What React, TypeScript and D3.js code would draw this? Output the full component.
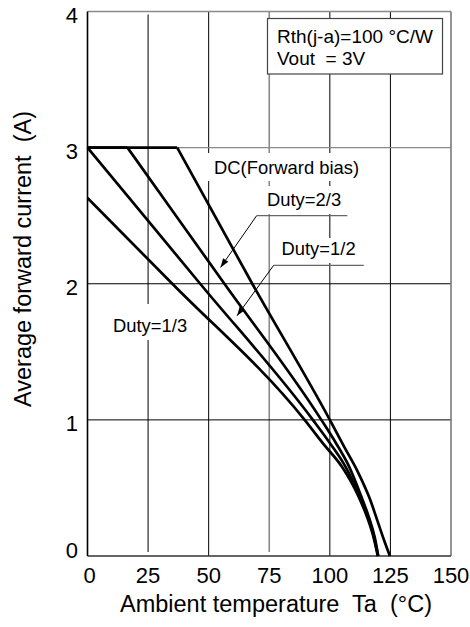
import React from 'react';
import * as d3 from 'd3';

const W = 470;
const H = 627;

const xTicks = [0, 25, 50, 75, 100, 125, 150];
const yTicks = [0, 1, 2, 3, 4];

const seriesNames = ['DC(Forward bias)', 'Duty=2/3', 'Duty=1/2', 'Duty=1/3'];

const dcT = [0, 37, 68, 100, 106, 111.5, 116.5, 120, 122.5, 124.8];
const dcI = [3, 3, 2, 1, 0.8, 0.62, 0.42, 0.24, 0.11, 0];

const d23T = [0, 16.5, 56.5, 96.5, 102.5, 108, 112.7, 116.2, 118.5, 120];
const d23I = [3, 3, 2, 1, 0.83, 0.655, 0.45, 0.28, 0.14, 0];

const d12T = [0, 46.5, 93, 100, 106.5, 112, 115.8, 118.2, 119.9];
const d12I = [3, 2, 1, 0.83, 0.655, 0.45, 0.28, 0.14, 0];

const d13T = [0, 35, 89.6, 97.5, 105, 111.5, 115.5, 118, 119.8];
const d13I = [2.63, 2, 1, 0.82, 0.655, 0.45, 0.28, 0.14, 0];

const seriesT = [dcT, d23T, d12T, d13T];
const seriesI = [dcI, d23I, d12I, d13I];

const infoLines = ['Rth(j-a)=100 °C/W', 'Vout  = 3V'];
const xTitle = 'Ambient temperature  Ta  (°C)';
const yTitle = 'Average forward current  (A)';

const FONT = "'Liberation Sans', Arial, Helvetica, sans-serif";

export default function App() {
  const x = d3.scaleLinear().domain([0, 150]).range([87.5, 451]);
  const y = d3.scaleLinear().domain([0, 4]).range([556, 11.5]);

  const flat = d3
    .line<[number, number]>()
    .x((d) => x(d[0]))
    .y((d) => y(d[1]))
    .curve(d3.curveLinear);
  const smooth = d3
    .line<[number, number]>()
    .x((d) => x(d[0]))
    .y((d) => y(d[1]))
    .curve(d3.curveMonotoneX);

  const series = seriesNames.map((name, k) => {
    const pts: [number, number][] = seriesT[k].map((t, i) => [t, seriesI[k][i]]);
    let knee = 0;
    while (knee + 1 < pts.length && pts[knee + 1][1] === pts[0][1]) knee++;
    return {
      name,
      head: pts.slice(0, knee + 1),
      rest: pts.slice(knee),
    };
  });

  const x0 = x(0), x1 = x(150), yTop = y(4), yBot = y(0);

  const vGrid = [
    { v: 25, color: '#000', w: 1, y0: yTop + 3, y1: yBot - 4 },
    { v: 50, color: '#000', w: 1, y0: yTop, y1: yBot },
    { v: 75, color: '#8a8a8a', w: 1.6, y0: yTop, y1: yBot - 4 },
    { v: 100, color: '#000', w: 1, y0: yTop, y1: yBot },
    { v: 125, color: '#000', w: 1, y0: yTop, y1: yBot },
  ];
  const hGrid = [
    { v: 1, color: '#000', w: 1 },
    { v: 2, color: '#000', w: 1 },
    { v: 3, color: '#8a8a8a', w: 1.4 },
  ];

  const boxes = [
    { x: 200, y: 153, w: 178, h: 28 },
    { x: 262, y: 186, w: 88, h: 28 },
    { x: 276, y: 238, w: 90, h: 25 },
    { x: 109, y: 304, w: 82, h: 36 },
  ];

  const arrow = (tx: number, ty: number, fx: number, fy: number) => {
    const ang = Math.atan2(ty - fy, tx - fx);
    const L = 9, Wd = 3.2;
    const bx = tx - L * Math.cos(ang), by = ty - L * Math.sin(ang);
    const px = -Math.sin(ang) * Wd, py = Math.cos(ang) * Wd;
    return `M${tx},${ty}L${bx + px},${by + py}L${bx - px},${by - py}Z`;
  };

  const lead23 = { ex: 69.8, ey: 2.5, endX: 107.2, tx: 54.9, ty: 2.12 };
  const lead12 = { ex: 76.8, ey: 2.135, endX: 114, tx: 61.7, ty: 1.765 };

  const pre = { whiteSpace: 'pre' as const };

  return (
    <svg
      width={W}
      height={H}
      style={{ position: 'absolute', left: 0, top: 0, background: '#fff' }}
      fontFamily={FONT}
    >
      <rect x={0} y={0} width={W} height={H} fill="#fff" />
      {vGrid.map((g) => (
        <line key={'v' + g.v} x1={x(g.v)} x2={x(g.v)} y1={g.y0} y2={g.y1} stroke={g.color} strokeWidth={g.w} />
      ))}
      {hGrid.map((g) => (
        <line key={'h' + g.v} x1={x0} x2={x1} y1={y(g.v)} y2={y(g.v)} stroke={g.color} strokeWidth={g.w} />
      ))}
      <line x1={x0} x2={x1} y1={yTop} y2={yTop} stroke="#8a8a8a" strokeWidth={1.6} />
      <line x1={x1} x2={x1} y1={yTop} y2={yBot} stroke="#7a7a7a" strokeWidth={1.6} />
      <line x1={x0} x2={x1} y1={yBot} y2={yBot} stroke="#333" strokeWidth={1.6} />
      <line x1={x0} x2={x0} y1={yTop} y2={yBot} stroke="#000" strokeWidth={1.6} />

      {boxes.map((b, i) => (
        <rect key={'b' + i} x={b.x} y={b.y} width={b.w} height={b.h} fill="#fff" />
      ))}

      <rect x={267.5} y={18.5} width={175} height={55.5} fill="#fff" stroke="#444" strokeWidth={1.2} />
      {infoLines.map((t, i) => (
        <text key={'i' + i} x={277} y={43 + i * 22} fontSize={19} fill="#000" xmlSpace="preserve" style={pre}>
          {t}
        </text>
      ))}

      {series.map((s) => (
        <g key={s.name} fill="none" stroke="#000" strokeWidth={2.7} strokeLinejoin="round">
          {s.head.length > 1 && <path d={flat(s.head) || ''} />}
          <path d={smooth(s.rest) || ''} />
        </g>
      ))}

      <line x1={x(lead23.ex)} x2={x(lead23.endX)} y1={y(lead23.ey)} y2={y(lead23.ey)} stroke="#666" strokeWidth={1.3} />
      <line x1={x(lead23.ex)} y1={y(lead23.ey)} x2={x(lead23.tx)} y2={y(lead23.ty)} stroke="#000" strokeWidth={1} />
      <path d={arrow(x(lead23.tx), y(lead23.ty), x(lead23.ex), y(lead23.ey))} fill="#000" />
      <line x1={x(lead12.ex)} x2={x(lead12.endX)} y1={y(lead12.ey)} y2={y(lead12.ey)} stroke="#666" strokeWidth={1.3} />
      <line x1={x(lead12.ex)} y1={y(lead12.ey)} x2={x(lead12.tx)} y2={y(lead12.ty)} stroke="#000" strokeWidth={1} />
      <path d={arrow(x(lead12.tx), y(lead12.ty), x(lead12.ex), y(lead12.ey))} fill="#000" />

      <text x={214} y={174} fontSize={18.4}>{seriesNames[0]}</text>
      <text x={267} y={206} fontSize={18.4}>{seriesNames[1]}</text>
      <text x={281.5} y={255} fontSize={18.4}>{seriesNames[2]}</text>
      <text x={113} y={332} fontSize={18.4}>{seriesNames[3]}</text>

      {xTicks.map((t) => (
        <text key={'xt' + t} x={x(t) + (t === 0 ? 2 : 0)} y={583} fontSize={22} textAnchor="middle">
          {t}
        </text>
      ))}
      {yTicks.map((t) => (
        <text key={'yt' + t} x={78} y={y(t) + (t === 0 ? 2 : 11)} fontSize={22} textAnchor="end">
          {t}
        </text>
      ))}

      <text x={276} y={612} fontSize={23.5} textAnchor="middle" xmlSpace="preserve" style={pre}>
        {xTitle}
      </text>
      <text
        transform={`translate(31,259) rotate(-90)`}
        fontSize={23.5}
        textAnchor="middle"
        xmlSpace="preserve"
        style={pre}
      >
        {yTitle}
      </text>
    </svg>
  );
}
